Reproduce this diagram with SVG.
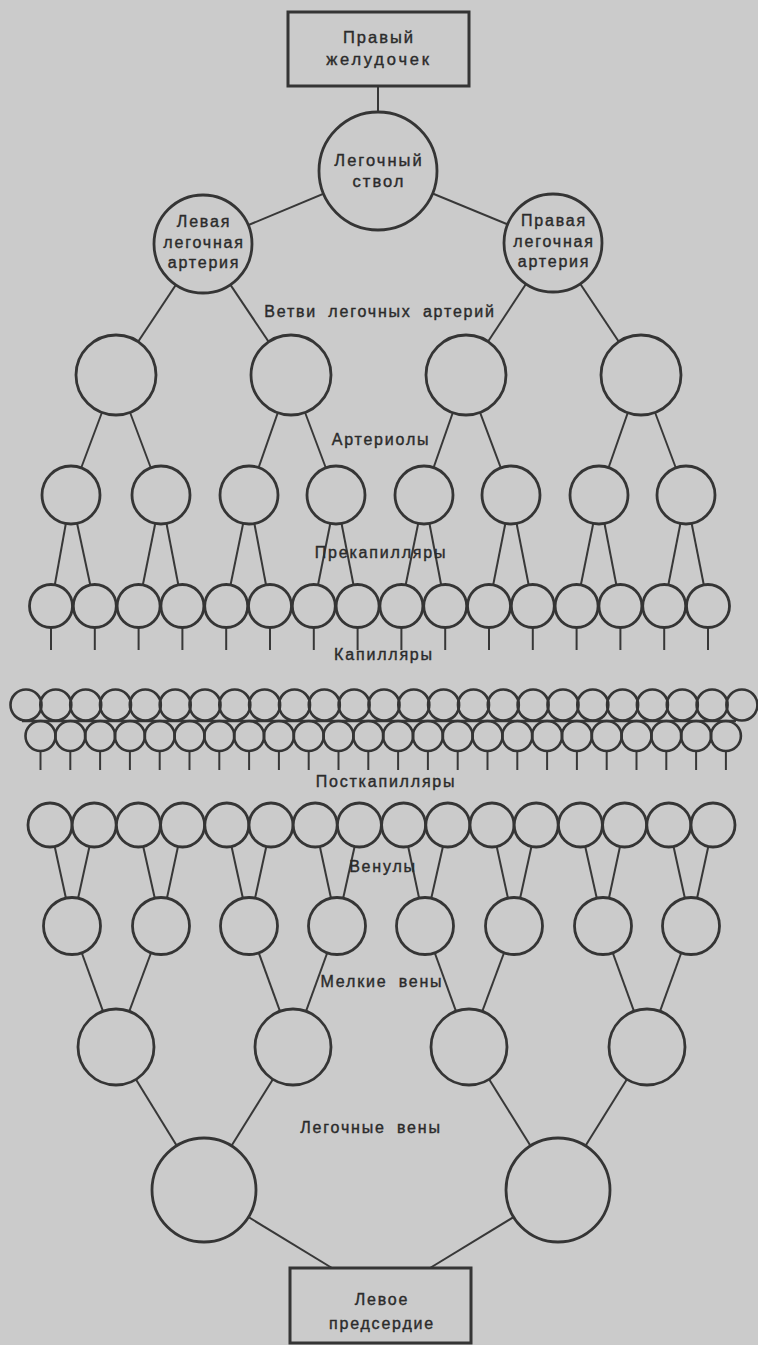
<svg xmlns="http://www.w3.org/2000/svg" width="758" height="1345" viewBox="0 0 758 1345">
<style>
.bg{fill:#cbcbcb}
.n{fill:#cbcbcb;stroke:#353535;stroke-width:2.8}
.c{fill:none;stroke:#353535;stroke-width:2.6}
.box{fill:#cbcbcb;stroke:#353535;stroke-width:3}
.ln line{stroke:#383838;stroke-width:2;stroke-linecap:butt}
text{font-family:"Liberation Sans",Arial,sans-serif;font-size:16px;letter-spacing:1.8px;word-spacing:5px;fill:#2b2b2b;text-anchor:middle;stroke:#2b2b2b;stroke-width:0.4}
.nt{font-size:16.5px;letter-spacing:2px}
</style>
<rect class="bg" x="0" y="0" width="758" height="1345"/>
<g id="connectors" class="ln">
<line x1="378" y1="86" x2="378" y2="171"/>
<line x1="378" y1="171" x2="203" y2="244"/>
<line x1="378" y1="171" x2="553" y2="243"/>
<line x1="203" y1="244" x2="116" y2="375"/>
<line x1="203" y1="244" x2="291" y2="375"/>
<line x1="553" y1="243" x2="466" y2="375"/>
<line x1="553" y1="243" x2="641" y2="375"/>
<line x1="116" y1="375" x2="71" y2="495"/>
<line x1="116" y1="375" x2="161" y2="495"/>
<line x1="291" y1="375" x2="249" y2="495"/>
<line x1="291" y1="375" x2="336" y2="495"/>
<line x1="466" y1="375" x2="424" y2="495"/>
<line x1="466" y1="375" x2="511" y2="495"/>
<line x1="641" y1="375" x2="599" y2="495"/>
<line x1="641" y1="375" x2="686" y2="495"/>
<line x1="71" y1="495" x2="51" y2="606"/>
<line x1="71" y1="495" x2="94.8" y2="606"/>
<line x1="161" y1="495" x2="138.6" y2="606"/>
<line x1="161" y1="495" x2="182.4" y2="606"/>
<line x1="249" y1="495" x2="226.2" y2="606"/>
<line x1="249" y1="495" x2="270" y2="606"/>
<line x1="336" y1="495" x2="313.8" y2="606"/>
<line x1="336" y1="495" x2="357.6" y2="606"/>
<line x1="424" y1="495" x2="401.4" y2="606"/>
<line x1="424" y1="495" x2="445.2" y2="606"/>
<line x1="511" y1="495" x2="489" y2="606"/>
<line x1="511" y1="495" x2="532.8" y2="606"/>
<line x1="599" y1="495" x2="576.6" y2="606"/>
<line x1="599" y1="495" x2="620.4" y2="606"/>
<line x1="686" y1="495" x2="664.2" y2="606"/>
<line x1="686" y1="495" x2="708" y2="606"/>
<line x1="51" y1="606" x2="51" y2="650"/>
<line x1="94.8" y1="606" x2="94.8" y2="650"/>
<line x1="138.6" y1="606" x2="138.6" y2="650"/>
<line x1="182.4" y1="606" x2="182.4" y2="650"/>
<line x1="226.2" y1="606" x2="226.2" y2="650"/>
<line x1="270" y1="606" x2="270" y2="650"/>
<line x1="313.8" y1="606" x2="313.8" y2="650"/>
<line x1="357.6" y1="606" x2="357.6" y2="650"/>
<line x1="401.4" y1="606" x2="401.4" y2="650"/>
<line x1="445.2" y1="606" x2="445.2" y2="650"/>
<line x1="489" y1="606" x2="489" y2="650"/>
<line x1="532.8" y1="606" x2="532.8" y2="650"/>
<line x1="576.6" y1="606" x2="576.6" y2="650"/>
<line x1="620.4" y1="606" x2="620.4" y2="650"/>
<line x1="664.2" y1="606" x2="664.2" y2="650"/>
<line x1="708" y1="606" x2="708" y2="650"/>
<line x1="22" y1="721" x2="736" y2="721" style="stroke-width:2.4"/>
<line x1="40.5" y1="751" x2="40.5" y2="770"/>
<line x1="70.3" y1="751" x2="70.3" y2="770"/>
<line x1="100.1" y1="751" x2="100.1" y2="770"/>
<line x1="129.9" y1="751" x2="129.9" y2="770"/>
<line x1="159.7" y1="751" x2="159.7" y2="770"/>
<line x1="189.5" y1="751" x2="189.5" y2="770"/>
<line x1="219.3" y1="751" x2="219.3" y2="770"/>
<line x1="249.1" y1="751" x2="249.1" y2="770"/>
<line x1="278.9" y1="751" x2="278.9" y2="770"/>
<line x1="308.7" y1="751" x2="308.7" y2="770"/>
<line x1="338.5" y1="751" x2="338.5" y2="770"/>
<line x1="368.3" y1="751" x2="368.3" y2="770"/>
<line x1="398.1" y1="751" x2="398.1" y2="770"/>
<line x1="427.9" y1="751" x2="427.9" y2="770"/>
<line x1="457.7" y1="751" x2="457.7" y2="770"/>
<line x1="487.5" y1="751" x2="487.5" y2="770"/>
<line x1="517.3" y1="751" x2="517.3" y2="770"/>
<line x1="547.1" y1="751" x2="547.1" y2="770"/>
<line x1="576.9" y1="751" x2="576.9" y2="770"/>
<line x1="606.7" y1="751" x2="606.7" y2="770"/>
<line x1="636.5" y1="751" x2="636.5" y2="770"/>
<line x1="666.3" y1="751" x2="666.3" y2="770"/>
<line x1="696.1" y1="751" x2="696.1" y2="770"/>
<line x1="725.9" y1="751" x2="725.9" y2="770"/>
<line x1="50" y1="825" x2="72" y2="926"/>
<line x1="94.2" y1="825" x2="72" y2="926"/>
<line x1="138.4" y1="825" x2="161" y2="926"/>
<line x1="182.6" y1="825" x2="161" y2="926"/>
<line x1="226.8" y1="825" x2="249" y2="926"/>
<line x1="271" y1="825" x2="249" y2="926"/>
<line x1="315.2" y1="825" x2="337" y2="926"/>
<line x1="359.4" y1="825" x2="337" y2="926"/>
<line x1="403.6" y1="825" x2="425" y2="926"/>
<line x1="447.8" y1="825" x2="425" y2="926"/>
<line x1="492" y1="825" x2="514" y2="926"/>
<line x1="536.2" y1="825" x2="514" y2="926"/>
<line x1="580.4" y1="825" x2="603" y2="926"/>
<line x1="624.6" y1="825" x2="603" y2="926"/>
<line x1="668.8" y1="825" x2="691" y2="926"/>
<line x1="713" y1="825" x2="691" y2="926"/>
<line x1="72" y1="926" x2="116" y2="1047"/>
<line x1="161" y1="926" x2="116" y2="1047"/>
<line x1="249" y1="926" x2="293" y2="1047"/>
<line x1="337" y1="926" x2="293" y2="1047"/>
<line x1="425" y1="926" x2="469" y2="1047"/>
<line x1="514" y1="926" x2="469" y2="1047"/>
<line x1="603" y1="926" x2="647" y2="1047"/>
<line x1="691" y1="926" x2="647" y2="1047"/>
<line x1="116" y1="1047" x2="204" y2="1190"/>
<line x1="293" y1="1047" x2="204" y2="1190"/>
<line x1="469" y1="1047" x2="558" y2="1190"/>
<line x1="647" y1="1047" x2="558" y2="1190"/>
<line x1="204" y1="1190" x2="332" y2="1268"/>
<line x1="558" y1="1190" x2="430" y2="1268"/>
</g>
<g id="right-ventricle"><rect class="box" x="288" y="12" width="181" height="74"/><text class="nt" x="379" y="43">Правый</text><text class="nt" x="379" y="65" style="letter-spacing:2.8px">желудочек</text></g>
<g id="pulmonary-trunk"><circle class="n" cx="378" cy="171" r="59"/><text class="nt" x="379" y="166">Легочный</text><text class="nt" x="379" y="187">ствол</text></g>
<g id="left-pulmonary-artery"><circle class="n" cx="203" cy="244" r="49"/><text x="204" y="227">Левая</text><text x="204" y="248">легочная</text><text x="204" y="268">артерия</text></g>
<g id="right-pulmonary-artery"><circle class="n" cx="553" cy="243" r="49"/><text x="554" y="226">Правая</text><text x="554" y="247">легочная</text><text x="554" y="267">артерия</text></g>
<g id="branches">
<circle id="b1" class="n" cx="116" cy="375" r="40"/><circle id="b2" class="n" cx="291" cy="375" r="40"/><circle id="b3" class="n" cx="466" cy="375" r="40"/><circle id="b4" class="n" cx="641" cy="375" r="40"/>
</g>
<g id="arterioles">
<circle class="n" cx="71" cy="495" r="29"/><circle class="n" cx="161" cy="495" r="29"/><circle class="n" cx="249" cy="495" r="29"/><circle class="n" cx="336" cy="495" r="29"/><circle class="n" cx="424" cy="495" r="29"/><circle class="n" cx="511" cy="495" r="29"/><circle class="n" cx="599" cy="495" r="29"/><circle class="n" cx="686" cy="495" r="29"/>
</g>
<g id="precapillaries">
<circle class="n" cx="51" cy="606" r="21.5"/><circle class="n" cx="94.8" cy="606" r="21.5"/><circle class="n" cx="138.6" cy="606" r="21.5"/><circle class="n" cx="182.4" cy="606" r="21.5"/><circle class="n" cx="226.2" cy="606" r="21.5"/><circle class="n" cx="270" cy="606" r="21.5"/><circle class="n" cx="313.8" cy="606" r="21.5"/><circle class="n" cx="357.6" cy="606" r="21.5"/><circle class="n" cx="401.4" cy="606" r="21.5"/><circle class="n" cx="445.2" cy="606" r="21.5"/><circle class="n" cx="489" cy="606" r="21.5"/><circle class="n" cx="532.8" cy="606" r="21.5"/><circle class="n" cx="576.6" cy="606" r="21.5"/><circle class="n" cx="620.4" cy="606" r="21.5"/><circle class="n" cx="664.2" cy="606" r="21.5"/><circle class="n" cx="708" cy="606" r="21.5"/>
</g>
<g id="capillaries-top">
<circle class="c" cx="26" cy="705" r="15.5"/><circle class="c" cx="55.8" cy="705" r="15.5"/><circle class="c" cx="85.7" cy="705" r="15.5"/><circle class="c" cx="115.5" cy="705" r="15.5"/><circle class="c" cx="145.3" cy="705" r="15.5"/><circle class="c" cx="175.2" cy="705" r="15.5"/><circle class="c" cx="205" cy="705" r="15.5"/><circle class="c" cx="234.8" cy="705" r="15.5"/><circle class="c" cx="264.6" cy="705" r="15.5"/><circle class="c" cx="294.5" cy="705" r="15.5"/><circle class="c" cx="324.3" cy="705" r="15.5"/><circle class="c" cx="354.1" cy="705" r="15.5"/><circle class="c" cx="384" cy="705" r="15.5"/><circle class="c" cx="413.8" cy="705" r="15.5"/><circle class="c" cx="443.6" cy="705" r="15.5"/><circle class="c" cx="473.5" cy="705" r="15.5"/><circle class="c" cx="503.3" cy="705" r="15.5"/><circle class="c" cx="533.1" cy="705" r="15.5"/><circle class="c" cx="563" cy="705" r="15.5"/><circle class="c" cx="592.8" cy="705" r="15.5"/><circle class="c" cx="622.6" cy="705" r="15.5"/><circle class="c" cx="652.4" cy="705" r="15.5"/><circle class="c" cx="682.3" cy="705" r="15.5"/><circle class="c" cx="712.1" cy="705" r="15.5"/><circle class="c" cx="741.9" cy="705" r="15.5"/>
</g>
<g id="capillaries-bottom">
<circle class="c" cx="40.5" cy="736" r="15"/><circle class="c" cx="70.3" cy="736" r="15"/><circle class="c" cx="100.1" cy="736" r="15"/><circle class="c" cx="129.9" cy="736" r="15"/><circle class="c" cx="159.7" cy="736" r="15"/><circle class="c" cx="189.5" cy="736" r="15"/><circle class="c" cx="219.3" cy="736" r="15"/><circle class="c" cx="249.1" cy="736" r="15"/><circle class="c" cx="278.9" cy="736" r="15"/><circle class="c" cx="308.7" cy="736" r="15"/><circle class="c" cx="338.5" cy="736" r="15"/><circle class="c" cx="368.3" cy="736" r="15"/><circle class="c" cx="398.1" cy="736" r="15"/><circle class="c" cx="427.9" cy="736" r="15"/><circle class="c" cx="457.7" cy="736" r="15"/><circle class="c" cx="487.5" cy="736" r="15"/><circle class="c" cx="517.3" cy="736" r="15"/><circle class="c" cx="547.1" cy="736" r="15"/><circle class="c" cx="576.9" cy="736" r="15"/><circle class="c" cx="606.7" cy="736" r="15"/><circle class="c" cx="636.5" cy="736" r="15"/><circle class="c" cx="666.3" cy="736" r="15"/><circle class="c" cx="696.1" cy="736" r="15"/><circle class="c" cx="725.9" cy="736" r="15"/>
</g>
<g id="postcapillaries">
<circle class="n" cx="50" cy="825" r="22"/><circle class="n" cx="94.2" cy="825" r="22"/><circle class="n" cx="138.4" cy="825" r="22"/><circle class="n" cx="182.6" cy="825" r="22"/><circle class="n" cx="226.8" cy="825" r="22"/><circle class="n" cx="271" cy="825" r="22"/><circle class="n" cx="315.2" cy="825" r="22"/><circle class="n" cx="359.4" cy="825" r="22"/><circle class="n" cx="403.6" cy="825" r="22"/><circle class="n" cx="447.8" cy="825" r="22"/><circle class="n" cx="492" cy="825" r="22"/><circle class="n" cx="536.2" cy="825" r="22"/><circle class="n" cx="580.4" cy="825" r="22"/><circle class="n" cx="624.6" cy="825" r="22"/><circle class="n" cx="668.8" cy="825" r="22"/><circle class="n" cx="713" cy="825" r="22"/>
</g>
<g id="venules">
<circle class="n" cx="72" cy="926" r="28.5"/><circle class="n" cx="161" cy="926" r="28.5"/><circle class="n" cx="249" cy="926" r="28.5"/><circle class="n" cx="337" cy="926" r="28.5"/><circle class="n" cx="425" cy="926" r="28.5"/><circle class="n" cx="514" cy="926" r="28.5"/><circle class="n" cx="603" cy="926" r="28.5"/><circle class="n" cx="691" cy="926" r="28.5"/>
</g>
<g id="small-veins">
<circle class="n" cx="116" cy="1047" r="38"/><circle class="n" cx="293" cy="1047" r="38"/><circle class="n" cx="469" cy="1047" r="38"/><circle class="n" cx="647" cy="1047" r="38"/>
</g>
<g id="pulmonary-veins">
<circle class="n" cx="204" cy="1190" r="52"/><circle class="n" cx="558" cy="1190" r="52"/>
</g>
<g id="left-atrium"><rect class="box" x="290" y="1268" width="181" height="75"/><text x="382" y="1305">Левое</text><text x="382" y="1329">предсердие</text></g>
<g id="labels">
<text x="380" y="317">Ветви легочных артерий</text>
<text x="381" y="445">Артериолы</text>
<text x="381" y="558">Прекапилляры</text>
<text x="384" y="660">Капилляры</text>
<text x="386" y="787">Посткапилляры</text>
<text x="383" y="872">Венулы</text>
<text x="382" y="987">Мелкие вены</text>
<text x="371" y="1133">Легочные вены</text>
</g>
</svg>
